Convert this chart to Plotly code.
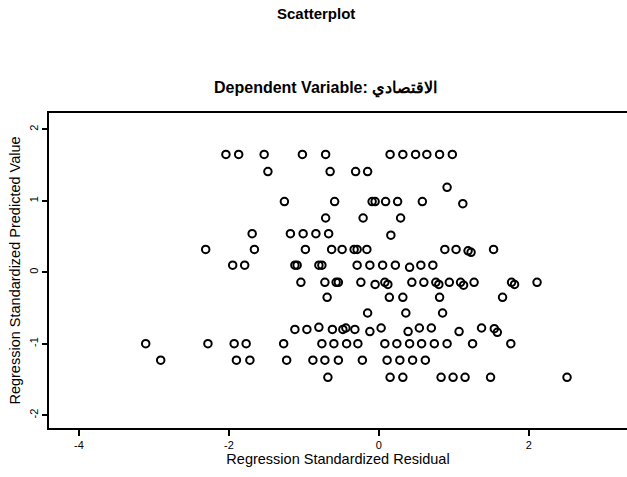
import plotly.graph_objects as go

# Regression standardized residual (x) and predicted value (y)
residual = [
    -2.04, -1.87, -1.53, -1.02, -0.71, 0.15, 0.32, 0.49, 0.64, 0.81, 0.98,
    -1.48, -0.65, -0.31, -0.15,
    0.91,
    -1.26, -0.59, -0.09, -0.05, 0.09, 0.25, 0.58, 1.12,
    -0.71, -0.21, 0.29,
    -1.69, -1.18, -1.01, -0.84, -0.67, 0.16,
    -2.31, -1.66, -0.98, -0.63, -0.49, -0.33, -0.29, -0.16, 0.88, 1.03, 1.19, 1.23, 1.53,
    -1.95, -1.79, -1.12, -1.09, -0.80, -0.76, -0.29, -0.12, 0.05, 0.22, 0.41, 0.56, 0.72,
    -1.04, -0.72, -0.57, -0.54, -0.24, -0.05, 0.08, 0.12, 0.44, 0.60, 0.76, 0.80, 0.94,
    1.09, 1.13, 1.27, 1.77, 1.81, 2.11,
    -0.69, 0.14, 0.32, 0.81, 1.65,
    -0.15, 0.36, 0.85,
    -1.12, -0.96, -0.80, -0.62, -0.48, -0.44, -0.32, -0.12, 0.03, 0.39, 0.54, 0.70,
    1.07, 1.37, 1.54, 1.58,
    -3.11, -2.28, -1.93, -1.77, -1.27, -0.76, -0.60, -0.43, -0.28, 0.08, 0.24, 0.41,
    0.57, 0.74, 0.91, 1.25, 1.76,
    -2.91, -1.90, -1.72, -1.23, -0.88, -0.72, -0.54, -0.22, 0.11, 0.28, 0.45, 0.62,
    -0.68, 0.15, 0.32, 0.83, 0.99, 1.15, 1.49, 2.51,
]
predicted = [
    1.65, 1.65, 1.65, 1.65, 1.65, 1.65, 1.65, 1.65, 1.65, 1.65, 1.65,
    1.41, 1.41, 1.41, 1.41,
    1.19,
    0.99, 0.99, 0.99, 0.99, 0.99, 0.99, 0.99, 0.96,
    0.76, 0.76, 0.76,
    0.54, 0.54, 0.54, 0.54, 0.54, 0.52,
    0.32, 0.32, 0.32, 0.32, 0.32, 0.32, 0.32, 0.32, 0.32, 0.32, 0.30, 0.28, 0.32,
    0.10, 0.10, 0.10, 0.10, 0.10, 0.10, 0.10, 0.10, 0.10, 0.10, 0.07, 0.10, 0.10,
    -0.14, -0.14, -0.14, -0.14, -0.14, -0.17, -0.14, -0.17, -0.14, -0.14, -0.14, -0.17, -0.14,
    -0.14, -0.18, -0.14, -0.14, -0.17, -0.14,
    -0.35, -0.35, -0.35, -0.35, -0.35,
    -0.57, -0.57, -0.57,
    -0.80, -0.80, -0.77, -0.80, -0.80, -0.78, -0.80, -0.83, -0.78, -0.83, -0.78, -0.78,
    -0.83, -0.78, -0.79, -0.84,
    -1.00, -1.00, -1.00, -1.00, -1.00, -1.00, -1.00, -1.00, -1.00, -1.00, -1.00, -1.00,
    -1.00, -1.00, -1.00, -1.00, -1.00,
    -1.23, -1.23, -1.23, -1.23, -1.23, -1.23, -1.23, -1.23, -1.23, -1.23, -1.23, -1.23,
    -1.47, -1.47, -1.47, -1.47, -1.47, -1.47, -1.47, -1.47,
]

x_ticks = [-4, -2, 0, 2]
y_ticks = [-2, -1, 0, 1, 2]

main_title = "Scatterplot"
sub_title = "Dependent Variable:\u200e \u200fالاقتصادي"
x_title = "Regression Standardized Residual"
y_title = "Regression Standardized Predicted Value"

FONT = "Liberation Sans, Arial, sans-serif"

fig = go.Figure()
fig.add_trace(go.Scatter(
    x=residual, y=predicted, mode="markers",
    marker=dict(symbol="circle-open", size=7.5, color="black",
                line=dict(width=2, color="black")),
    showlegend=False, hoverinfo="x+y",
))

fig.update_layout(
    width=627, height=477,
    margin=dict(l=49, r=0, t=113, b=49),
    paper_bgcolor="white", plot_bgcolor="white",
    font=dict(family=FONT, color="black"),
    showlegend=False,
    annotations=[
        dict(text="<b>" + main_title + "</b>", xref="paper", yref="paper",
             x=0.462, y=1.317, showarrow=False, xanchor="center", yanchor="middle",
             font=dict(size=15, family=FONT, color="black")),
        dict(text="<b>" + sub_title + "</b>", xref="paper", yref="paper",
             x=0.479, y=1.079, showarrow=False, xanchor="center", yanchor="middle",
             font=dict(size=16, family=FONT, color="black")),
    ],
)

fig.update_xaxes(
    range=[-4.40, 3.31], tickvals=x_ticks, ticktext=[str(v) for v in x_ticks],
    showgrid=False, zeroline=False,
    showline=True, linecolor="black", linewidth=2, mirror=True,
    ticks="outside", ticklen=6, tickwidth=2, tickcolor="black",
    tickfont=dict(size=11, family=FONT, color="black"),
    title=dict(text=x_title, font=dict(size=14.5, family=FONT, color="black"), standoff=4),
)
fig.update_yaxes(
    range=[-2.18, 2.23], tickvals=y_ticks, ticktext=[str(v) for v in y_ticks],
    showgrid=False, zeroline=False,
    showline=True, linecolor="black", linewidth=2, mirror=False,
    ticks="outside", ticklen=5, tickwidth=2, tickcolor="black", tickangle=-90,
    tickfont=dict(size=11, family=FONT, color="black"),
    title=dict(text=y_title, font=dict(size=14.5, family=FONT, color="black"), standoff=4),
)

fig.write_html("out.html")
